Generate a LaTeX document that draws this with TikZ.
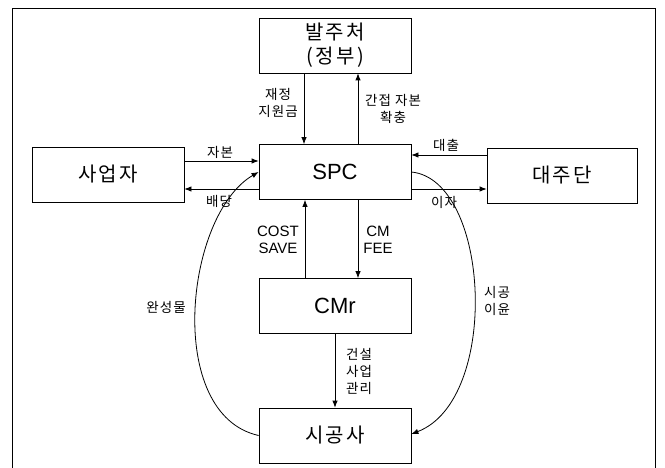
\documentclass[tikz,border=0pt]{standalone}
\usepackage{fontspec}
\setmainfont{Liberation Sans}
\newfontfamily\kr[LetterSpace=8]{Noto Sans CJK KR}
\newfontfamily\krbig[LetterSpace=12]{Noto Sans CJK KR}
\usetikzlibrary{arrows.meta}

\begin{document}
\begin{tikzpicture}[
  x=1pt, y=-1pt,
  party/.style={draw,line width=0.8pt,minimum width=152pt,minimum height=55pt,inner sep=0pt,align=center},
  hangul/.style={font=\krbig\fontsize{20}{24}\selectfont},
  latin/.style={font=\fontsize{22}{26}\selectfont},
  note/.style={align=center,inner sep=0pt,font=\kr\fontsize{13.5}{17}\selectfont},
  enote/.style={align=center,inner sep=0pt,font=\fontsize{15}{17.5}\selectfont},
  flow/.style={draw,line width=0.8pt,-{Latex[length=7pt,width=5.5pt]}}
]
\useasboundingbox (0,0) rectangle (665,468);
\draw[line width=0.6pt] (12,468) -- (12,8) -- (655,8) -- (655,468);

\node[party,hangul] (ordering) at (335,45.5) {발주처\\(정부)};
\node[party,latin] (spc) at (335,172) {SPC};
\node[party,hangul] (entre) at (108,174.5) {사업자};
\node[party,hangul,minimum width=150pt] (lenders) at (562,175.5) {대주단};
\node[party,latin] (cmr) at (335,306) {CMr};
\node[party,hangul] (builder) at (335,435.5) {시공사};

\draw[flow] ([xshift=-31pt]ordering.south) -- ([xshift=-31pt]spc.north);
\draw[flow] ([xshift=23pt]spc.north) -- ([xshift=23pt]ordering.south);
\draw[flow] ([yshift=11pt]spc.west -| entre.east) -- ([yshift=11pt]spc.west);
\draw[flow] ([yshift=-17pt]spc.west) -- ([yshift=-17pt]spc.west -| entre.east);
\draw[flow] ([yshift=17pt]spc.east -| lenders.west) -- ([yshift=17pt]spc.east);
\draw[flow] ([yshift=-17pt]spc.east) -- ([yshift=-17pt]spc.east -| lenders.west);
\draw[flow] ([xshift=-30pt]cmr.north) -- ([xshift=-30pt]spc.south);
\draw[flow] ([xshift=23pt]spc.south) -- ([xshift=23pt]cmr.north);
\draw[flow] (cmr.south) -- (builder.north);
\draw[flow] (builder.west) .. controls +(-94,-21) and +(-74,43) .. (spc.west);
\draw[flow] (spc.east) .. controls +(79,8) and +(89,-34) .. ([yshift=1.5pt]builder.east);

\node[note] (l-fund) at (278,103) {재정\\지원금};
\node[note] (l-soc) at (393,109) {간접 자본\\확충};
\node[note] (l-equity) at (220,152) {자본};
\node[note] (l-div) at (219,201) {배당};
\node[note] (l-loan) at (446,145) {대출};
\node[note] (l-int) at (444,202) {이자};
\node[enote] (l-save) at (278,240) {COST\\SAVE};
\node[enote] (l-fee) at (378,240) {CM\\FEE};
\node[note] (l-done) at (166,307) {완성물};
\node[note] (l-profit) at (497,301) {시공\\이윤};
\node[note] (l-cm) at (359,371) {건설\\사업\\관리};
\end{tikzpicture}
\end{document}
